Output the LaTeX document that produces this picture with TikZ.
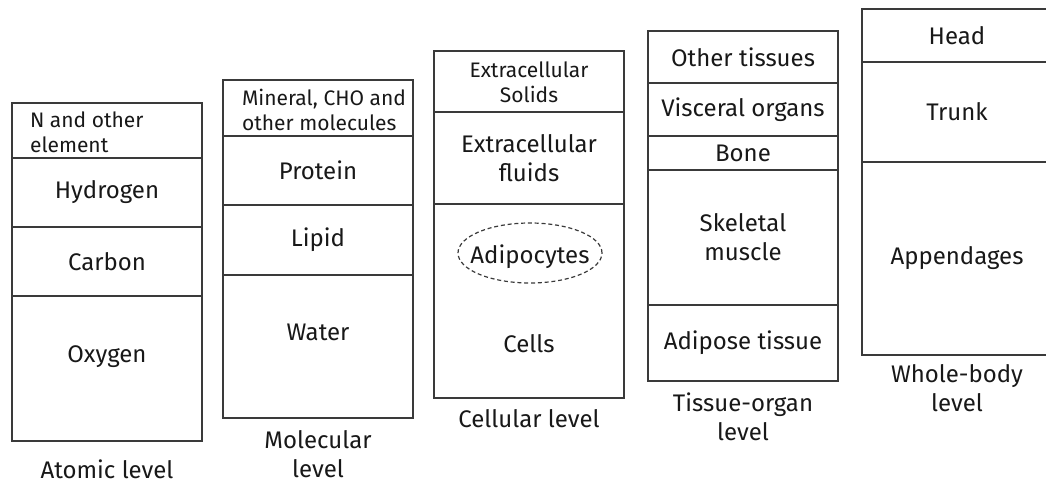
\documentclass[tikz,border=0pt]{standalone}
\usepackage{fontspec}
\setmainfont{Fira Sans}
\usepackage{xcolor}
\usetikzlibrary{shapes.geometric}

\definecolor{linegray}{HTML}{3A3A3A}
\definecolor{textgray}{HTML}{181818}

\begin{document}
\begin{tikzpicture}[
		x=0.5pt, y=-0.5pt,
		font=\fontsize{12}{14.5}\selectfont,
		cell/.style={draw=linegray, line width=0.8pt, minimum width=95pt, inner sep=0pt, text=textgray, align=center},
		txt/.style={text=textgray, align=center},
		note/.style={font=\fontsize{10.5}{12.5}\selectfont, text=textgray},
		lvl/.style={text=textgray, align=center, inner sep=1pt}
		]
		
		\useasboundingbox (0,0) rectangle (1046,482);
		\clip (0,0) rectangle (1046,482);
		
		% Atomic level
		\node[cell, minimum height=27.5pt] (nitro) at (107,130.5) {};
		\node[cell, minimum height=34.5pt] (hydro) at (107,192.5) {Hydrogen};
		\node[cell, minimum height=34.5pt] (carb) at (107,261.5) {Carbon};
		\node[cell, minimum height=72.5pt] (oxy) at (107,368.5) {};
		\node[note, anchor=west, align=left] (nitrotext) at (23,132) {N and other\\element};
		\node[txt] (oxytext) at (107,357) {Oxygen};
		\node[lvl] (atomic) at (107,469) {Atomic level};
		
		% Molecular level
		\node[cell, minimum height=28pt] (mineral) at (318,108) {};
		\node[cell, minimum height=34.5pt] (protein) at (318,170.5) {Protein};
		\node[cell, minimum height=35pt] (lipid) at (318,240) {Lipid};
		\node[cell, minimum height=71.5pt] (water) at (318,346.5) {};
		\node[note, anchor=west, align=left] (mineraltext) at (235,110) {Mineral, CHO and\\other molecules};
		\node[txt] (watertext) at (318,332) {Water};
		\node[lvl] (molecular) at (318,454) {Molecular\\level};
		
		% Cellular level
		\node[cell, minimum height=30.5pt] (solids) at (529,81.5) {};
		\node[cell, minimum height=46pt] (fluids) at (529,158) {Extracellular\\fluids};
		\node[cell, minimum height=97pt] (cells) at (529,301) {};
		\node[note, align=center] (solidstext) at (529,82) {Extracellular\\Solids};
		\node[draw=linegray, ellipse, dashed, dash pattern=on 2pt off 1.4pt, line width=0.6pt,
			minimum width=72pt, minimum height=30pt, inner sep=0pt] (adipo) at (530,253) {};
		\node[txt] (adipotext) at (530,257) {Adipocytes};
		\node[txt] (cellstext) at (529,344) {Cells};
		\node[lvl] (cellular) at (529,419) {Cellular level};
		
		% Tissue-organ level
		\node[cell, minimum height=26pt] (other) at (743,57) {Other tissues};
		\node[cell, minimum height=26.5pt] (visceral) at (743,109.5) {Visceral organs};
		\node[cell, minimum height=17pt] (bone) at (743,153) {Bone};
		\node[cell, minimum height=67.5pt] (skeletal) at (743,237.5) {Skeletal\\muscle};
		\node[cell, minimum height=38pt] (adipose) at (743,343) {Adipose tissue};
		\node[lvl] (tissue) at (743,417) {Tissue-organ\\level};
		
		% Whole-body level
		\node[cell, minimum height=26.5pt] (head) at (957,35.5) {Head};
		\node[cell, minimum height=50pt] (trunk) at (957,112) {Trunk};
		\node[cell, minimum height=96.5pt] (append) at (957,258.5) {Appendages};
		\node[lvl] (whole) at (957,388) {Whole-body\\level};
		
	\end{tikzpicture}
\end{document}
